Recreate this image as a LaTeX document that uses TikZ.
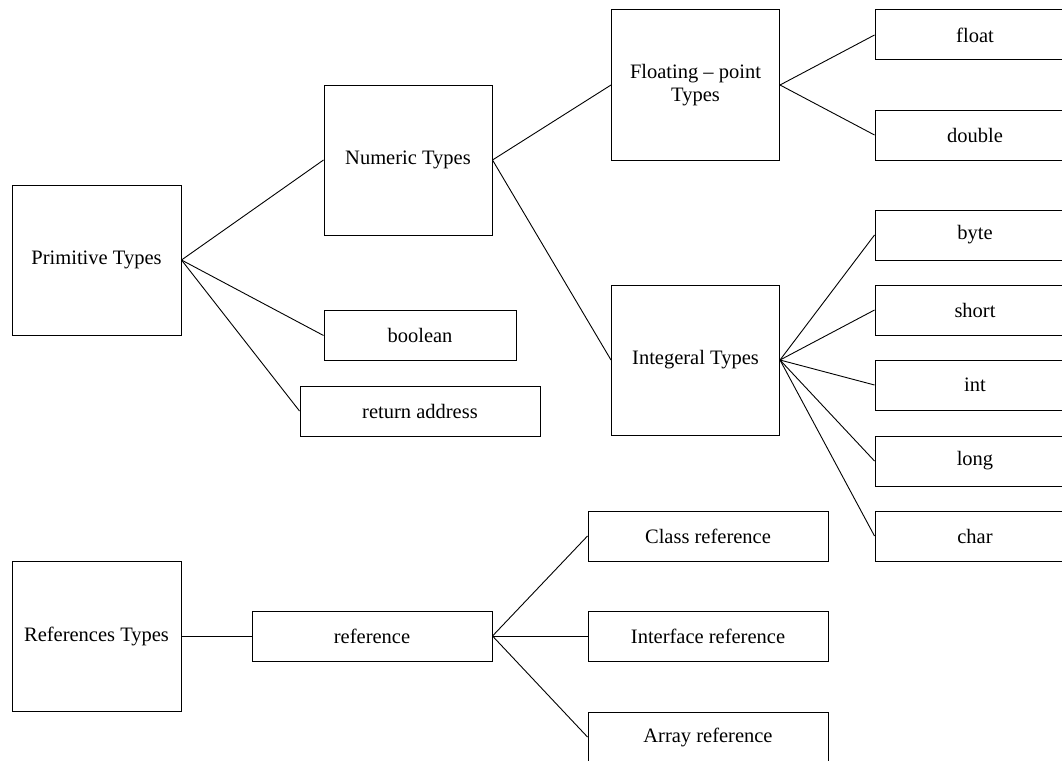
\documentclass[tikz,border=0pt]{standalone}
\usepackage{fontspec}
\setmainfont{Liberation Serif}
\begin{document}
\begin{tikzpicture}[x=1pt,y=-1pt,
  box/.style={draw=black,line width=1pt,fill=white,inner sep=0pt,
    minimum width=#1,align=center,font=\fontsize{20.5}{23}\selectfont},
  tall/.style={box=#1,minimum height=150},
  flat/.style={box=#1,minimum height=50},
  link/.style={draw=black,line width=0.9pt}]
\useasboundingbox (0,0) rectangle (1062,760);
\fill[white] (0,0) rectangle (1062,760);
\clip (0,0) rectangle (1062,760);
% primitive branch
\node[tall=169] (prim) at (96.5,260) {Primitive Types};
\node[tall=168] (num) at (408,160) {Numeric Types};
\node[flat=192] (bool) at (420,335.5) {boolean};
\node[flat=240] (ret) at (420,411) {return address};
\node[tall=168] (flt) at (695.5,85) {Floating -- point\\Types};
\node[tall=168] (intg) at (695.5,360) {Integeral Types};
\node[flat=200] (float) at (975,35) {float};
\node[flat=200] (double) at (975,135) {double};
\node[flat=200] (byte) at (975,235) {byte};
\node[flat=200] (short) at (975,310) {short};
\node[flat=200] (int) at (975,385) {int};
\node[flat=200] (long) at (975,461) {long};
\node[flat=200] (char) at (975,536) {char};
% reference branch
\node[tall=169] (refs) at (96.5,636) {References Types};
\node[flat=240] (ref) at (372,636) {reference};
\node[flat=240] (cls) at (708,536) {Class reference};
\node[flat=240] (ifc) at (708,636) {Interface reference};
\node[flat=240] (arr) at (708,737) {Array reference};
% connectors
\foreach \a/\b in {prim/num,prim/bool,prim/ret,num/flt,num/intg,
  flt/float,flt/double,intg/byte,intg/short,intg/int,intg/long,intg/char,
  refs/ref,ref/cls,ref/ifc,ref/arr}
  \draw[link] (\a.east) -- (\b.west);
\end{tikzpicture}
\end{document}
